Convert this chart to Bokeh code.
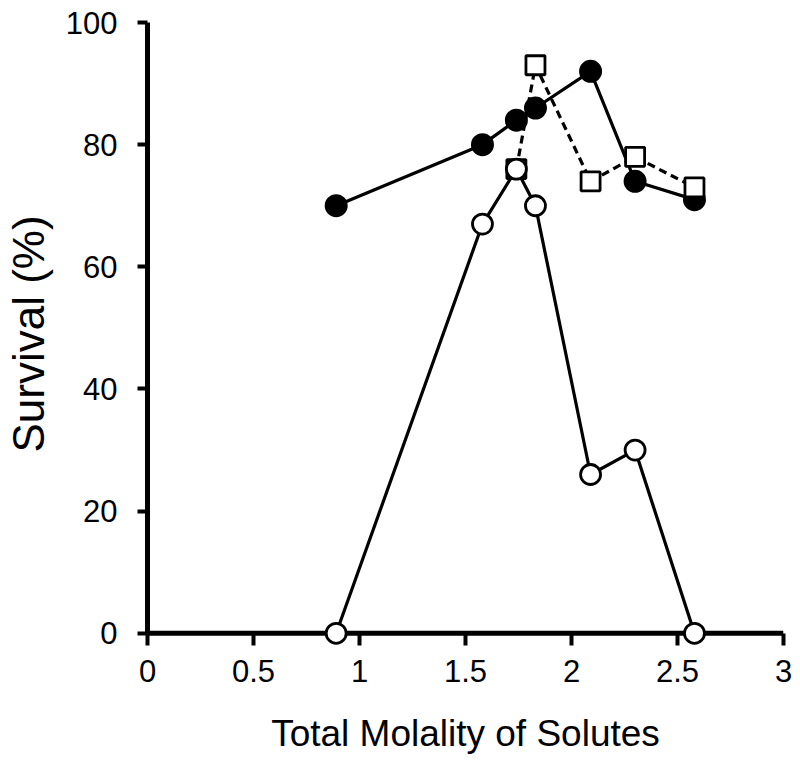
from bokeh.plotting import figure
from bokeh.models import Range1d, LinearAxis, FixedTicker, Span
from bokeh.embed import file_html
from bokeh.resources import INLINE

# Data
molality = [0.89, 1.58, 1.74, 1.83, 2.09, 2.30, 2.58]
survival_filled = [70, 80, 84, 86, 92, 74, 71]
survival_open = [0, 67, 76, 70, 26, 30, 0]
molality_sq = [1.74, 1.83, 2.09, 2.30, 2.58]
survival_sq = [76, 93, 74, 78, 73]

x_ticks = [0, 0.5, 1, 1.5, 2, 2.5, 3]
y_ticks = [0, 20, 40, 60, 80, 100]
x_tick_labels = {0: "0", 0.5: "0.5", 1: "1", 1.5: "1.5", 2: "2", 2.5: "2.5", 3: "3"}

FONT = "Liberation Sans"

p = figure(width=800, height=766, output_backend="svg", toolbar_location=None,
           x_range=Range1d(0, 3), y_range=Range1d(-2.0, 100),
           x_axis_location=None, y_axis_location=None,
           min_border_left=147, min_border_right=17, min_border_top=22,
           min_border_bottom=121)
p.outline_line_color = None
p.xgrid.visible = False
p.ygrid.visible = False
p.background_fill_color = "white"
p.border_fill_color = "white"

yaxis = LinearAxis(bounds=(0, 100), ticker=FixedTicker(ticks=y_ticks),
                   axis_label="Survival (%)")
xaxis = LinearAxis(ticker=FixedTicker(ticks=x_ticks),
                   axis_label="Total Molality of Solutes")
xaxis.major_label_overrides = x_tick_labels
for ax in (xaxis, yaxis):
    ax.axis_line_width = 5
    ax.axis_line_color = "black"
    ax.major_tick_line_width = 4
    ax.major_tick_line_color = "black"
    ax.minor_tick_line_color = None
    ax.major_label_text_font = FONT
    ax.major_label_text_font_size = "31px"
    ax.major_label_text_color = "black"
    ax.axis_label_text_font = FONT
    ax.axis_label_text_font_style = "normal"
    ax.axis_label_text_color = "black"
yaxis.major_tick_in = 0
yaxis.major_tick_out = 10
yaxis.major_label_standoff = 20
yaxis.axis_label_text_font_size = "44px"
yaxis.axis_label_standoff = 10
# x axis sits at the frame bottom; its line is drawn at y = 0 by a span
xaxis.axis_line_color = None
xaxis.major_tick_in = 12
xaxis.major_tick_out = 0
xaxis.major_label_standoff = 14
xaxis.axis_label_text_font_size = "37px"
xaxis.axis_label_standoff = 28
p.add_layout(yaxis, "left")
p.add_layout(xaxis, "below")

p.add_layout(Span(location=0, dimension="width", line_color="black",
                  line_width=5, level="underlay"))

# dashed series (squares) line
p.line(molality_sq, survival_sq, line_color="black", line_width=3.2, line_dash="8 5")
# filled circle series
p.line(molality, survival_filled, line_color="black", line_width=3.2)
p.scatter(molality, survival_filled, marker="circle", size=21,
          fill_color="black", line_color="black", line_width=2)
# squares
p.scatter(molality_sq, survival_sq, marker="square", size=19,
          fill_color="white", line_color="black", line_width=2.8)
# open circle series
p.line(molality, survival_open, line_color="black", line_width=3.2)
p.scatter(molality, survival_open, marker="circle", size=20,
          fill_color="white", line_color="black", line_width=2.8)

open("out.html", "w").write(file_html(p, INLINE))
